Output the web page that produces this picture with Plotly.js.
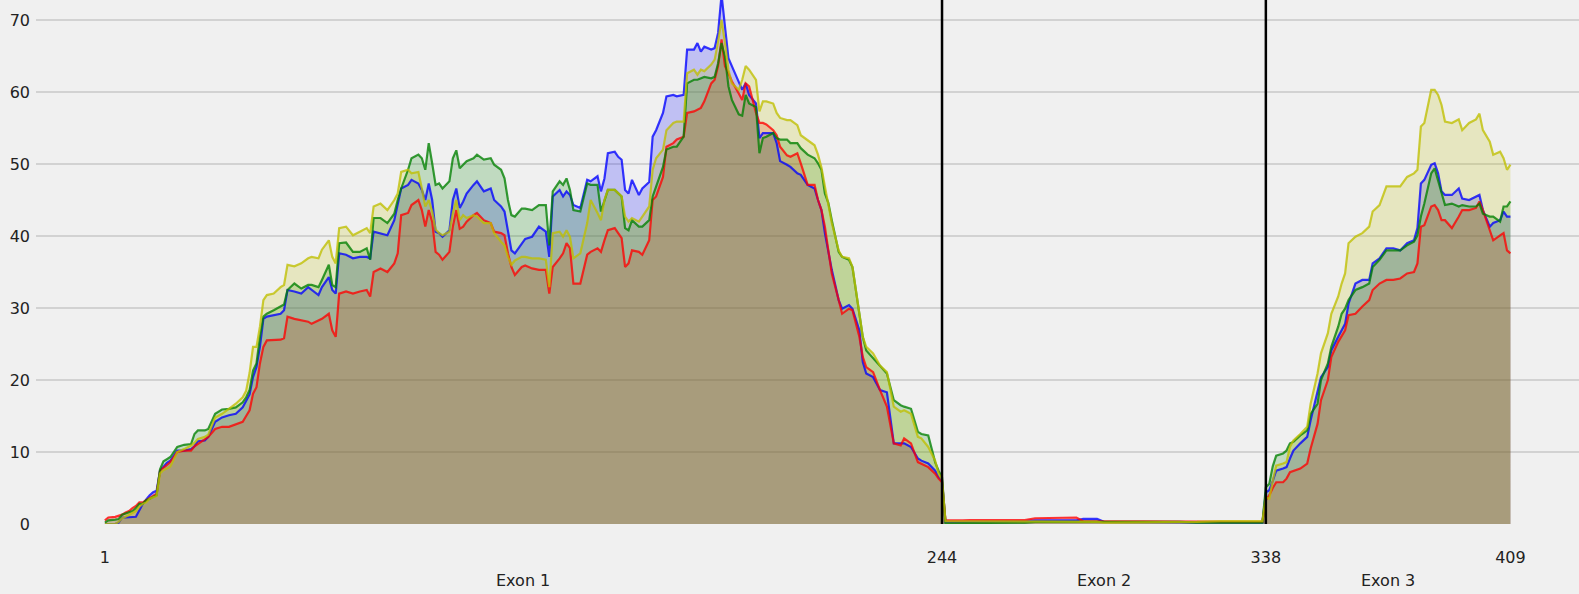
<!DOCTYPE html>
<html>
<head>
<meta charset="utf-8">
<script src="https://cdn.plot.ly/plotly-3.0.1.min.js"></script>
<style>
  html, body { margin: 0; padding: 0; background: #f0f0f0; }
  #chart { width: 1579px; height: 594px; }
</style>
</head>
<body>
<div id="chart"></div>
<script>
// Genomic positions (sampled) along the transcript
const positions = [
  1,2,4,5,6,7,8,9,10,11,
  12,13,14,15,16,17,18,19,20,21,
  22,24,26,27,28,30,31,33,35,37,
  39,41,42,43,44,45,46,47,48,50,
  52,53,54,56,58,60,61,63,64,66,
  67,68,69,71,73,75,77,78,79,81,
  83,85,86,87,89,90,92,93,94,95,
  96,97,98,99,101,102,103,104,105,106,
  108,109,111,113,114,116,117,118,119,120,
  122,123,125,127,129,130,131,133,134,135,
  136,137,139,141,142,144,145,146,147,149,
  150,151,152,153,154,156,157,159,160,161,
  163,164,166,167,169,170,172,173,174,175,
  177,178,179,180,181,182,183,185,186,187,
  188,190,191,192,193,195,196,197,199,200,
  202,203,205,207,208,209,210,211,212,214,
  215,217,218,220,221,222,224,226,228,230,
  232,233,235,237,238,240,242,243,244,245,
  250,252,260,268,271,278,283,285,289,291,
  300,310,313,318,325,337,338,339,340,341,
  343,344,345,346,348,350,351,353,354,356,
  357,359,360,361,362,364,366,368,369,371,
  373,375,377,379,381,382,383,384,386,387,
  388,389,390,392,394,395,397,399,400,401,
  403,404,406,407,408,409
];

const blueValues = [
  0,0,0,0.2,0.9,0.9,0.9,1.0,1.0,1.9,
  2.8,3.4,4.0,4.4,4.6,7.4,8.0,8.5,8.8,9.5,
  10.2,10.2,10.4,10.8,11.5,11.6,12.1,14.2,14.8,15.1,
  15.3,16.2,17.0,18.0,20.4,21.8,24.6,28.5,28.8,29.0,
  29.2,29.7,32.5,32.3,32.0,32.9,32.5,31.8,32.9,34.3,
  32.5,32.0,37.6,37.4,36.9,37.1,37.1,36.9,40.6,40.4,
  40.1,42.2,44.5,46.6,47.1,47.8,47.3,46.4,45.0,47.3,
  45.0,40.6,40.4,39.9,40.8,45.0,46.6,43.9,44.8,45.9,
  47.1,47.6,46.2,46.6,45.0,44.1,43.4,40.6,38.0,37.6,
  39.0,39.6,39.9,41.3,40.6,37.1,45.5,46.4,45.5,46.2,
  45.7,44.3,43.9,47.8,47.6,48.3,46.2,48.0,51.5,51.7,
  51.0,50.6,46.4,45.9,47.8,45.7,46.6,47.5,53.8,54.7,
  57.1,59.4,59.6,59.4,59.6,65.9,65.9,66.8,65.6,66.3,
  65.9,66.1,68.2,73.5,69.1,64.7,63.6,61.5,60.3,61.2,
  59.6,58.4,53.6,54.3,54.3,54.3,52.9,50.4,49.9,49.6,
  48.7,48.5,47.1,46.6,45.0,43.6,40.4,37.6,35.3,31.1,
  29.9,30.4,29.9,26.9,22.5,20.9,20.4,18.6,18.3,11.2,
  11.2,11.2,10.7,9.1,8.8,8.4,7.4,6.5,6.0,0.3,
  0.3,0.3,0.4,0.4,0.5,0.5,0.5,0.7,0.7,0.3,
  0.3,0.3,0.2,0.3,0.2,0.2,4.4,4.7,6.0,7.4,
  7.7,7.9,9.1,10.2,11.2,12.1,14.4,18.4,20.4,21.8,
  24.1,26.0,26.9,27.8,30.6,33.4,33.9,33.9,36.2,36.9,
  38.3,38.3,38.0,39.0,39.4,41.1,47.3,47.8,49.9,50.1,
  48.7,46.2,45.7,45.7,46.6,45.2,45.0,45.5,45.7,43.6,
  41.3,41.8,42.2,43.4,42.7,42.7
];

const redValues = [
  0.5,0.9,1.0,1.1,1.3,1.6,1.8,2.2,2.5,3.0,
  3.0,3.3,3.6,3.9,4.2,7.4,7.8,8.1,8.6,9.3,
  10.0,10.2,10.2,10.8,11.1,11.8,12.1,13.2,13.5,13.5,
  13.9,14.2,15.0,15.8,18.1,19.0,22.3,24.6,25.5,25.5,
  25.6,25.8,28.8,28.5,28.3,28.1,27.8,28.3,28.5,29.2,
  26.9,26.0,32.0,32.3,32.0,32.3,32.5,31.6,35.0,35.5,
  35.0,36.2,37.6,42.9,43.2,44.3,45.0,43.6,41.3,43.6,
  42.0,37.8,37.4,36.7,37.8,41.3,43.6,41.0,41.3,42.0,
  42.9,43.2,42.2,41.8,40.6,40.4,40.1,37.6,35.7,34.6,
  35.7,35.9,35.5,35.3,35.3,32.0,35.7,36.9,37.6,39.0,
  38.3,33.4,33.4,37.4,37.8,38.3,37.8,39.4,40.8,41.1,
  40.4,39.7,35.7,36.2,38.0,37.8,37.4,39.4,45.0,45.5,
  48.2,52.4,52.9,53.4,53.8,57.1,57.3,57.5,57.8,58.7,
  61.2,61.7,63.6,67.3,63.6,62.6,61.5,59.8,58.9,61.2,
  60.8,57.1,55.7,55.7,55.5,54.7,54.0,52.4,51.2,51.0,
  51.5,50.1,47.1,47.1,45.0,43.6,41.3,38.0,34.8,31.1,
  29.2,29.9,29.7,26.0,23.2,21.8,21.1,18.6,16.3,11.2,
  10.9,11.9,11.2,8.6,8.4,7.9,7.0,6.3,5.8,0.5,
  0.5,0.55,0.55,0.55,0.8,0.8,0.9,0.4,0.4,0.3,
  0.3,0.3,0.3,0.3,0.3,0.3,3.3,4.0,5.0,5.8,
  5.8,6.3,7.2,7.4,7.7,8.4,10.5,13.9,17.2,20.0,
  23.2,25.3,26.2,26.9,29.0,29.2,30.2,31.1,32.5,33.4,
  33.9,33.9,34.1,34.8,35.0,36.2,41.3,41.5,44.1,44.3,
  43.6,42.2,42.2,41.1,42.7,43.6,43.6,43.9,44.8,43.6,
  40.8,39.4,40.1,40.4,38.0,37.6
];

const greenValues = [
  0.2,0.5,0.6,0.7,1.3,1.5,1.6,1.8,2.2,2.8,
  2.8,3.3,3.5,3.7,4.0,7.6,8.7,9.0,9.3,10.0,
  10.7,11.0,11.1,12.5,13.0,13.0,13.2,15.3,15.9,16.0,
  16.2,16.9,17.6,18.6,21.3,22.3,26.0,28.8,29.2,29.7,
  30.2,30.5,32.5,33.4,32.7,33.2,33.2,32.9,33.9,36.0,
  33.2,32.9,39.0,39.1,37.8,37.8,38.3,36.7,42.5,42.5,
  41.8,43.1,45.0,46.6,49.2,50.8,51.3,50.8,49.2,52.9,
  50.1,47.1,47.3,46.6,47.6,50.8,51.9,49.4,49.9,50.4,
  50.8,51.3,50.6,50.8,49.9,49.2,48.0,45.0,42.9,42.7,
  43.8,43.8,43.6,44.3,44.3,38.7,46.2,47.6,47.1,48.0,
  46.4,43.6,43.4,47.3,47.1,47.1,43.4,45.0,46.4,46.4,
  45.9,45.5,41.1,40.8,42.2,41.3,41.3,42.2,45.5,46.9,
  49.6,52.0,52.4,52.4,53.8,61.2,61.7,61.7,61.9,62.1,
  61.9,62.1,64.0,66.8,64.9,60.8,58.9,56.9,56.7,59.6,
  58.4,57.9,51.5,53.6,53.8,54.3,53.6,53.4,53.4,52.9,
  52.9,52.2,51.3,50.8,50.1,49.2,45.9,44.6,42.2,37.8,
  37.1,36.7,35.7,28.8,26.0,24.1,23.0,22.0,20.9,17.2,
  16.5,16.3,16.0,12.8,12.5,12.3,8.6,7.4,6.5,0.1,
  0.1,0.1,0.1,0.2,0.3,0.3,0.3,0.3,0.3,0.3,
  0.4,0.3,0.3,0.2,0.2,0.2,5.1,5.6,8.0,9.5,
  9.8,10.2,11.2,11.4,12.3,13.0,15.3,16.7,20.0,22.3,
  24.6,27.4,29.2,29.9,31.1,32.5,32.9,33.4,35.7,36.7,
  38.0,38.0,38.0,38.7,39.2,40.1,42.7,44.5,48.7,49.4,
  47.8,45.9,44.3,44.5,44.1,44.3,44.1,44.1,44.5,43.1,
  42.7,42.7,42.0,44.1,44.1,44.8
];

const yellowValues = [
  0,0,0,0.3,0.8,1.0,1.3,1.5,1.8,2.4,
  2.8,3.0,3.5,3.7,3.9,7.0,7.5,7.7,8.0,9.0,
  10.0,10.4,10.9,11.3,11.8,12.1,12.4,14.8,15.3,16.0,
  16.7,17.6,18.5,21.0,24.6,24.6,27.4,31.1,31.8,32.0,
  32.9,33.2,36.0,35.8,36.2,36.9,37.1,36.9,38.1,39.4,
  37.1,36.2,41.1,41.3,40.1,40.6,41.1,40.4,44.1,44.5,
  43.6,45.0,45.9,48.9,49.2,48.7,48.9,46.6,44.1,45.0,
  43.4,40.9,40.4,40.1,40.6,43.2,45.0,42.2,42.9,42.5,
  42.9,42.7,41.8,41.8,40.4,39.2,38.7,37.1,36.0,36.6,
  37.1,37.1,36.9,36.9,36.7,32.9,40.4,40.6,39.9,40.8,
  39.9,36.9,37.6,41.8,45.0,43.2,42.2,45.0,46.4,46.4,
  45.9,45.5,42.7,42.0,42.5,42.0,42.7,44.1,49.2,50.8,
  52.0,54.7,55.7,55.9,55.9,62.6,63.1,62.4,63.1,62.9,
  63.8,64.5,67.0,70.0,66.8,63.1,61.2,60.3,61.7,63.6,
  63.1,61.7,57.3,58.7,58.7,58.4,57.1,56.4,56.1,56.1,
  55.4,54.0,53.3,52.6,51.3,49.5,46.9,44.1,41.8,38.0,
  37.1,36.9,35.7,29.2,26.0,24.6,23.7,22.0,21.1,16.3,
  15.6,15.8,15.3,12.1,11.9,10.7,8.8,7.0,6.2,0.4,
  0.4,0.3,0.3,0.3,0.4,0.4,0.3,0.3,0.3,0.2,
  0.2,0.2,0.2,0.3,0.4,0.4,3.7,3.5,6.0,8.1,
  8.4,8.6,10.7,11.6,12.5,13.5,16.7,20.9,23.7,26.5,
  29.2,31.6,33.4,34.8,39.0,39.9,40.4,41.3,43.4,44.3,
  46.9,46.9,46.9,48.2,48.7,49.2,55.2,55.7,60.3,60.3,
  59.6,58.2,55.9,55.7,56.2,54.7,55.7,56.2,57.0,54.7,
  53.1,51.3,51.7,50.8,49.2,49.9
];

// Axis labelling
const tickPositions = [1, 244, 338, 409];
const tickLabels = ["1", "244", "338", "409"];
const exonBoundaries = [244, 338];
const exonNames = ["Exon 1", "Exon 2", "Exon 3"];
const exonCenters = [122.5, 291, 373.5];
const yTicks = [0, 10, 20, 30, 40, 50, 60, 70];

const seriesList = [
  { name: "blue",   values: blueValues,   rgb: "0,0,255" },
  { name: "red",    values: redValues,    rgb: "255,0,0" },
  { name: "green",  values: greenValues,  rgb: "0,128,0" },
  { name: "yellow", values: yellowValues, rgb: "191,191,0" }
];

// Fills first, then lines on top of all fills
const fillTraces = seriesList.map(s => ({
  type: "scatter",
  mode: "lines",
  name: s.name + " fill",
  x: positions,
  y: s.values,
  fill: "tozeroy",
  fillcolor: "rgba(" + s.rgb + ",0.2)",
  line: { color: "rgba(0,0,0,0)", width: 0 },
  hoverinfo: "skip"
}));
const lineTraces = seriesList.map(s => ({
  type: "scatter",
  mode: "lines",
  name: s.name,
  x: positions,
  y: s.values,
  line: { color: "rgba(" + s.rgb + ",0.78)", width: 2.2 },
  hoverinfo: "skip"
}));

const font = { family: "DejaVu Sans, sans-serif", size: 16, color: "#222222" };

const layout = {
  width: 1579,
  height: 594,
  margin: { l: 36, r: 0, t: 0, b: 70, pad: 0 },
  paper_bgcolor: "#f0f0f0",
  plot_bgcolor: "#f0f0f0",
  showlegend: false,
  font: font,
  xaxis: {
    range: [-19, 428.9],
    tickvals: tickPositions,
    ticktext: tickLabels,
    showgrid: false,
    zeroline: false,
    showline: false,
    ticks: "",
    ticklabelstandoff: 22,
    tickfont: font
  },
  yaxis: {
    range: [0, 72.78],
    tickvals: yTicks,
    ticktext: yTicks.map(String),
    showgrid: true,
    gridcolor: "#d2d2d2",
    gridwidth: 1.5,
    zeroline: false,
    showline: false,
    ticks: "",
    ticklabelstandoff: 5,
    tickfont: font
  },
  shapes: exonBoundaries.map(b => ({
    type: "line",
    xref: "x", yref: "paper",
    x0: b, x1: b, y0: 0, y1: 1,
    line: { color: "#000000", width: 2.5 },
    layer: "above"
  })),
  annotations: exonNames.map((n, i) => ({
    text: n,
    x: exonCenters[i],
    xref: "x",
    y: -0.108,
    yref: "paper",
    yanchor: "middle",
    xanchor: "center",
    showarrow: false,
    font: font
  }))
};

Plotly.newPlot("chart", fillTraces.concat(lineTraces), layout, { displayModeBar: false, staticPlot: true });
</script>
</body>
</html>
